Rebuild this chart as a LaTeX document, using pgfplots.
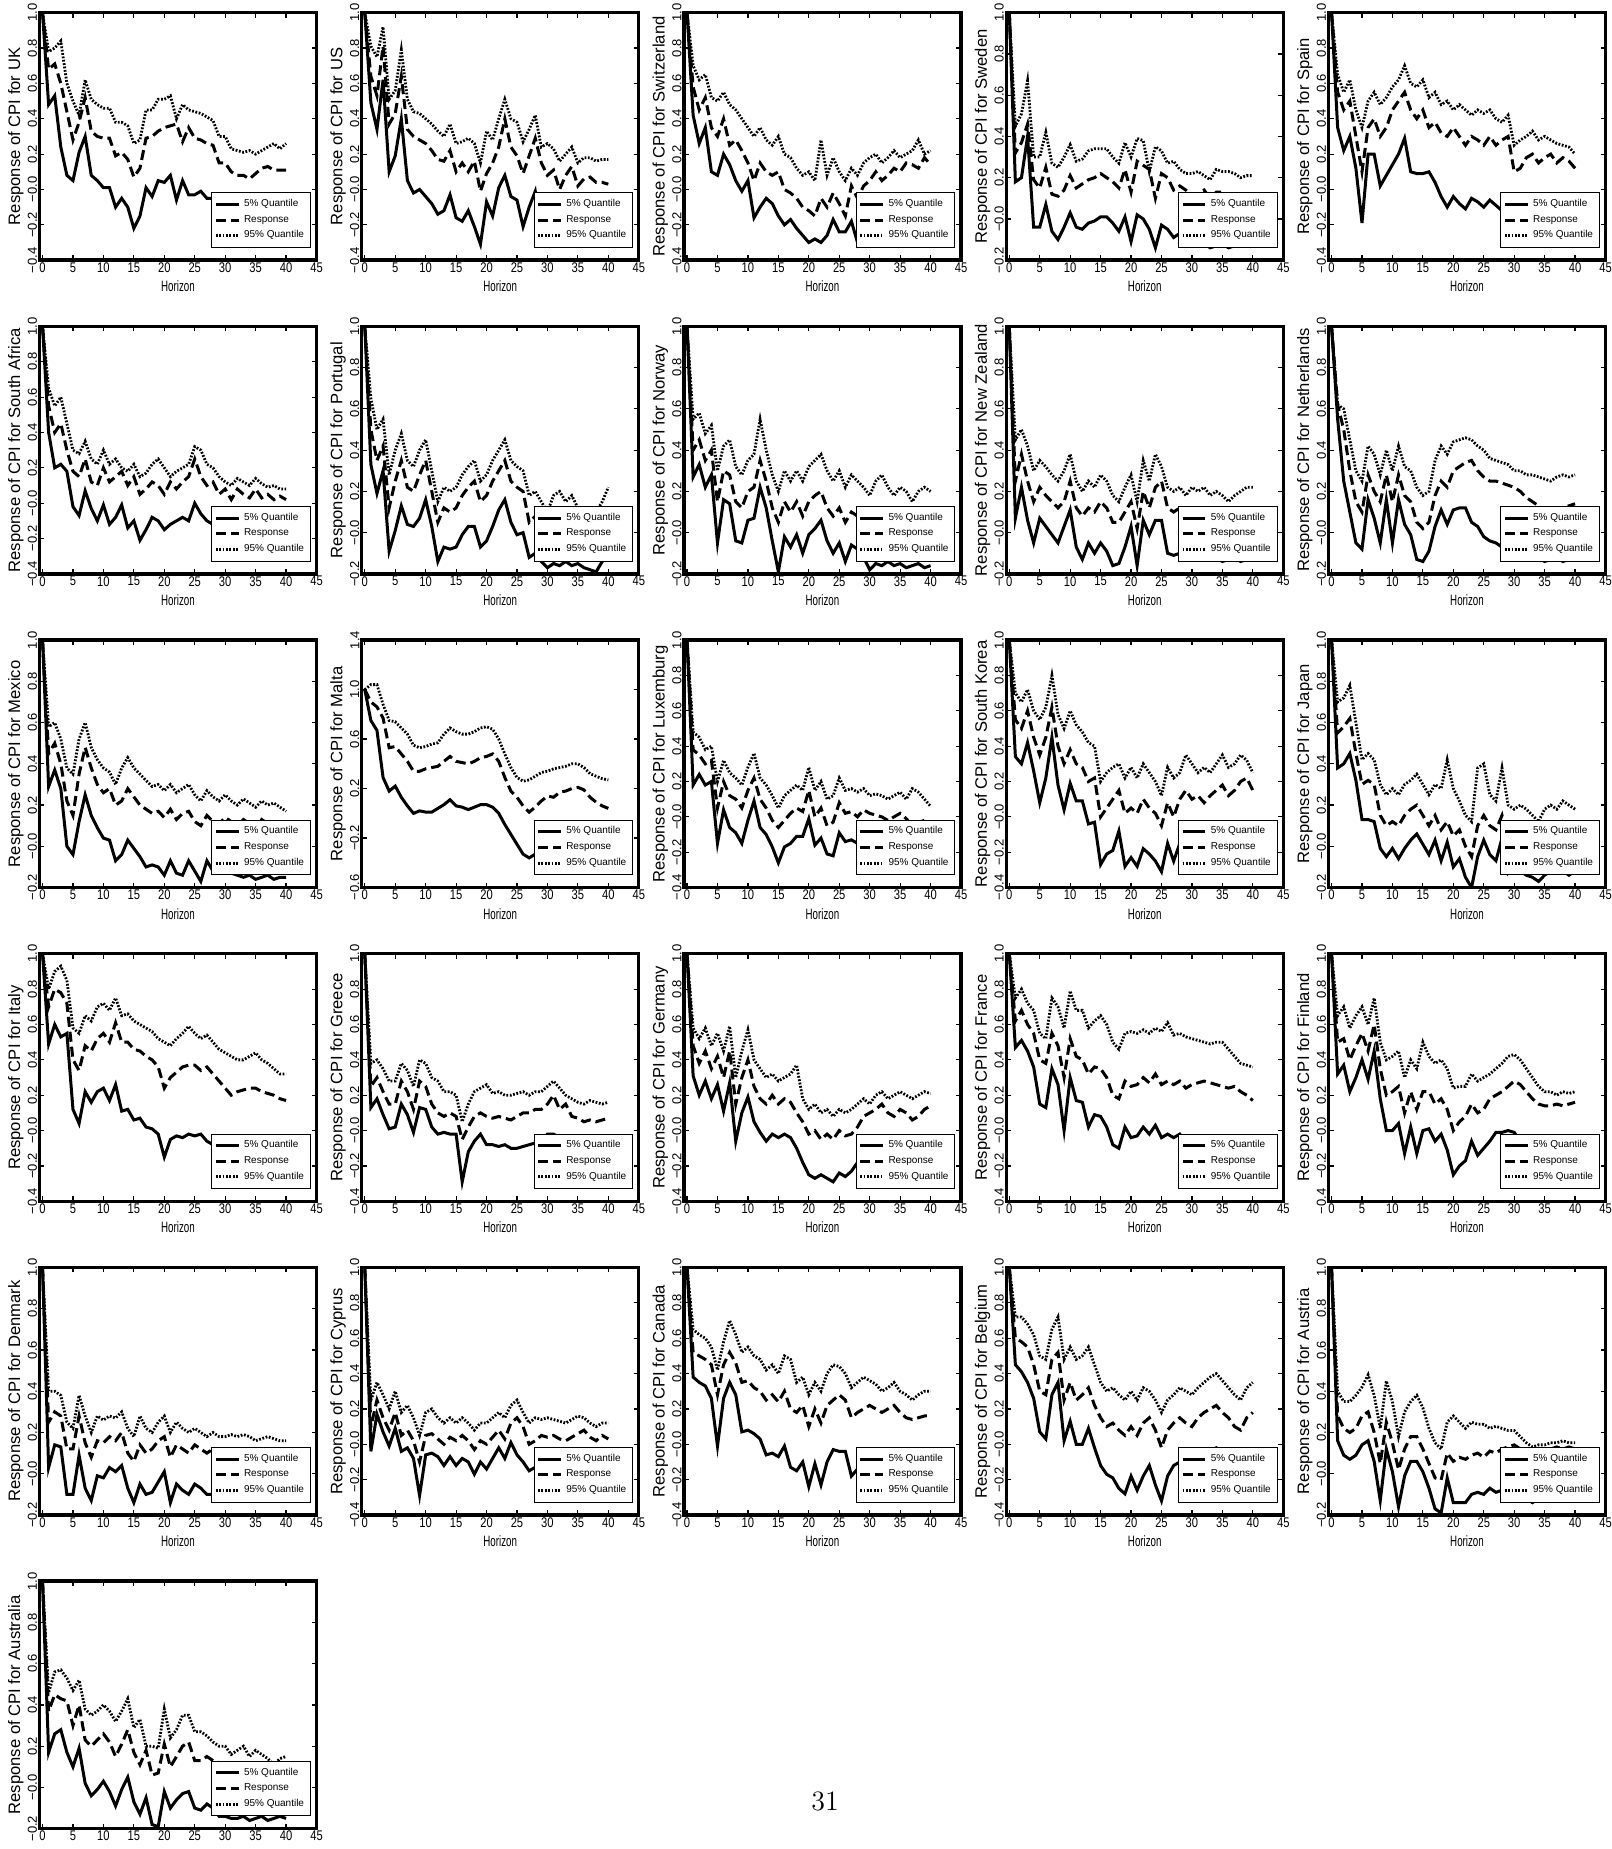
\documentclass[border=0pt]{standalone}
\usepackage{pgfplots}
\usepackage{pgfplotstable}
\usepackage{graphicx}
\usepackage{fontspec}
\pgfplotsset{compat=1.18}
\newfontfamily\lib{Liberation Sans}

\pgfplotsset{
  panel/.style={
    scale only axis, width=138.5pt, height=123.75pt, anchor=south west,
    xmin=-0.5, xmax=45, xtick={0,5,...,45},
    tick align=inside, major tick length=2.5pt,
    every tick/.style={black, line width=0.6pt},
    axis line style={line width=1.7pt},
    /pgf/number format/assume math mode=true,
    xticklabel={\scalebox{0.8}[1]{\pgfmathprintnumber{\tick}}},
    xticklabel style={font=\lib\fontsize{7}{7}\selectfont, inner sep=1pt},
    yticklabel style={font=\lib\fontsize{6.5}{6.5}\selectfont, rotate=90, anchor=south, inner sep=1pt},
    xlabel={\scalebox{0.65}[1]{Horizon}},
    xlabel style={font=\lib\fontsize{7.5}{8}\selectfont, inner sep=1pt, yshift=-2pt},
    ylabel style={font=\lib\fontsize{8.3}{9}\selectfont, inner sep=1pt},
    legend style={at={(rel axis cs:0.98,0.05)}, anchor=south east,
      font=\lib\fontsize{5}{5.5}\selectfont, draw=black, line width=0.5pt,
      fill=white, inner sep=1.2pt, row sep=-1.2pt, cells={anchor=west}},
    legend image code/.code={\draw[#1] (0cm,0cm) -- (0.4cm,0cm);},
    legend entries={5\% Quantile, Response, 95\% Quantile},
  },
  s5/.style={black, line width=1.5pt, solid},
  resp/.style={black, line width=1.5pt, dash pattern=on 5pt off 2.5pt},
  q95/.style={black, line width=1.4pt, dash pattern=on 0.9pt off 0.8pt},
  rA/.style={ymin=-0.4, ymax=1.0, ytick={-0.4,-0.2,0,0.2,0.4,0.6,0.8,1.0},
    yticklabels={−0.4,−0.2,−0.0,0.2,0.4,0.6,0.8,1.0}},
  rB/.style={ymin=-0.2, ymax=1.0, ytick={-0.2,0,0.2,0.4,0.6,0.8,1.0},
    yticklabels={−0.2,−0.0,0.2,0.4,0.6,0.8,1.0}},
  rM/.style={ymin=-0.6, ymax=1.4, ytick={-0.6,-0.2,0.2,0.6,1.0,1.4},
    yticklabels={−0.6,−0.2,0.2,0.6,1.0,1.4}},
}

\newcommand\panel[5]{%
\begin{axis}[panel,#4,at={(#1)},ylabel={Response of CPI for #3},#5]
\addplot[s5] table[x index=1,y index=2]{#2};
\addplot[resp] table[x index=1,y index=3]{#2};
\addplot[q95] table[x index=1,y index=4]{#2};
\end{axis}}

% rows of each table: horizon, 5% quantile, response, 95% quantile
\pgfplotstableread[header=false,row sep=\\]{
0 1 2 3 4 5 6 7 8 9 10 11 12 13 14 15 16 17 18 19 20 21 22 23 24 25 26 27 28 29 30 31 32 33 34 35 36 37 38 39 40\\
1.0 0.48 0.53 0.24 0.08 0.05 0.21 0.30 0.08 0.05 0.01 0.01 -0.10 -0.05 -0.10 -0.22 -0.15 0.01 -0.04 0.05 0.04 0.08 -0.06 0.05 -0.03 -0.03 -0.01 -0.05 -0.05 -0.19 -0.20 -0.22 -0.24 -0.25 -0.26 -0.27 -0.26 -0.24 -0.25 -0.26 -0.25\\
1.0 0.68 0.71 0.60 0.44 0.28 0.38 0.52 0.33 0.30 0.29 0.29 0.19 0.21 0.17 0.07 0.12 0.29 0.30 0.33 0.35 0.36 0.37 0.27 0.35 0.29 0.28 0.26 0.25 0.15 0.15 0.10 0.08 0.08 0.06 0.09 0.12 0.13 0.11 0.11 0.11\\
1.0 0.78 0.80 0.84 0.60 0.50 0.42 0.62 0.51 0.48 0.46 0.46 0.38 0.38 0.36 0.26 0.28 0.45 0.45 0.51 0.51 0.53 0.40 0.48 0.45 0.44 0.43 0.41 0.39 0.30 0.30 0.23 0.22 0.21 0.22 0.20 0.22 0.24 0.26 0.23 0.26\\
}\rawUK
\pgfplotstabletranspose{\tUK}{\rawUK}

\pgfplotstableread[header=false,row sep=\\]{
0 1 2 3 4 5 6 7 8 9 10 11 12 13 14 15 16 17 18 19 20 21 22 23 24 25 26 27 28 29 30 31 32 33 34 35 36 37 38 39 40\\
1.0 0.49 0.34 0.62 0.10 0.19 0.40 0.05 -0.02 0.00 -0.04 -0.08 -0.14 -0.12 -0.03 -0.16 -0.18 -0.12 -0.21 -0.31 -0.07 -0.15 0.01 0.08 -0.04 -0.06 -0.21 -0.10 -0.01 -0.25 -0.22 -0.24 -0.25 -0.26 -0.25 -0.27 -0.26 -0.27 -0.28 -0.27 -0.28\\
1.0 0.64 0.53 0.81 0.37 0.43 0.64 0.34 0.30 0.28 0.26 0.22 0.17 0.16 0.22 0.10 0.15 0.10 0.16 -0.01 0.09 0.15 0.24 0.40 0.24 0.19 0.09 0.19 0.29 0.15 0.08 0.11 0.00 0.08 0.13 0.02 0.06 0.07 0.04 0.04 0.03\\
1.0 0.81 0.75 0.92 0.51 0.56 0.79 0.51 0.44 0.43 0.40 0.37 0.33 0.30 0.37 0.26 0.27 0.29 0.26 0.15 0.33 0.28 0.40 0.51 0.40 0.38 0.27 0.34 0.42 0.24 0.26 0.23 0.16 0.20 0.24 0.15 0.18 0.18 0.16 0.17 0.17\\
}\rawUS
\pgfplotstabletranspose{\tUS}{\rawUS}

\pgfplotstableread[header=false,row sep=\\]{
0 1 2 3 4 5 6 7 8 9 10 11 12 13 14 15 16 17 18 19 20 21 22 23 24 25 26 27 28 29 30 31 32 33 34 35 36 37 38 39 40\\
1.0 0.42 0.26 0.35 0.10 0.08 0.20 0.14 0.05 -0.01 0.05 -0.16 -0.10 -0.05 -0.08 -0.15 -0.20 -0.17 -0.22 -0.26 -0.30 -0.28 -0.30 -0.26 -0.17 -0.24 -0.24 -0.18 -0.30 -0.15 -0.12 -0.10 -0.12 -0.10 -0.08 -0.07 -0.05 -0.04 -0.06 -0.04 -0.05\\
1.0 0.58 0.45 0.52 0.35 0.30 0.40 0.25 0.28 0.22 0.15 0.05 0.15 0.10 0.08 0.10 0.00 -0.02 -0.05 -0.10 -0.12 -0.15 -0.05 -0.10 -0.02 -0.08 -0.15 0.02 -0.05 0.02 0.05 0.10 0.05 0.08 0.12 0.10 0.15 0.14 0.12 0.18 0.14\\
1.0 0.70 0.62 0.65 0.52 0.50 0.55 0.48 0.45 0.40 0.35 0.30 0.35 0.28 0.25 0.30 0.20 0.18 0.12 0.08 0.10 0.05 0.28 0.08 0.18 0.10 0.05 0.12 0.08 0.15 0.18 0.20 0.15 0.18 0.22 0.18 0.20 0.22 0.28 0.20 0.22\\
}\rawCH
\pgfplotstabletranspose{\tCH}{\rawCH}

\pgfplotstableread[header=false,row sep=\\]{
0 1 2 3 4 5 6 7 8 9 10 11 12 13 14 15 16 17 18 19 20 21 22 23 24 25 26 27 28 29 30 31 32 33 34 35 36 37 38 39 40\\
1.0 0.18 0.20 0.40 -0.04 -0.04 0.07 -0.06 -0.10 -0.04 0.03 -0.04 -0.05 -0.02 -0.01 0.01 0.01 -0.02 -0.06 0.01 -0.11 0.02 0.00 -0.05 -0.14 -0.03 -0.05 -0.09 -0.07 -0.11 -0.12 -0.13 -0.12 -0.14 -0.13 -0.12 -0.14 -0.13 -0.12 -0.13 -0.12\\
1.0 0.32 0.37 0.46 0.19 0.15 0.25 0.12 0.11 0.14 0.21 0.15 0.17 0.19 0.20 0.22 0.20 0.18 0.15 0.24 0.13 0.28 0.26 0.24 0.10 0.22 0.20 0.14 0.16 0.14 0.11 0.12 0.14 0.10 0.13 0.13 0.12 0.12 0.11 0.10 0.10\\
1.0 0.45 0.51 0.67 0.30 0.30 0.42 0.27 0.25 0.30 0.36 0.28 0.29 0.33 0.34 0.34 0.34 0.30 0.27 0.37 0.30 0.39 0.38 0.23 0.35 0.33 0.27 0.28 0.24 0.22 0.22 0.23 0.21 0.19 0.24 0.23 0.23 0.22 0.20 0.21 0.21\\
}\rawSE
\pgfplotstabletranspose{\tSE}{\rawSE}

\pgfplotstableread[header=false,row sep=\\]{
0 1 2 3 4 5 6 7 8 9 10 11 12 13 14 15 16 17 18 19 20 21 22 23 24 25 26 27 28 29 30 31 32 33 34 35 36 37 38 39 40\\
1.0 0.35 0.22 0.30 0.12 -0.19 0.20 0.20 0.02 0.08 0.14 0.20 0.29 0.10 0.09 0.09 0.10 0.04 -0.04 -0.10 -0.04 -0.08 -0.11 -0.05 -0.07 -0.10 -0.06 -0.09 -0.12 -0.08 -0.25 -0.22 -0.24 -0.25 -0.23 -0.26 -0.25 -0.24 -0.26 -0.25 -0.24\\
1.0 0.55 0.45 0.50 0.30 0.10 0.35 0.40 0.30 0.35 0.45 0.50 0.55 0.45 0.40 0.45 0.35 0.38 0.32 0.30 0.35 0.30 0.25 0.30 0.28 0.25 0.30 0.25 0.28 0.30 0.10 0.12 0.18 0.20 0.15 0.18 0.20 0.15 0.18 0.16 0.12\\
1.0 0.65 0.55 0.62 0.45 0.35 0.50 0.55 0.48 0.52 0.58 0.62 0.70 0.60 0.58 0.62 0.52 0.55 0.48 0.50 0.45 0.48 0.45 0.42 0.45 0.43 0.45 0.40 0.38 0.42 0.25 0.28 0.30 0.33 0.28 0.30 0.28 0.26 0.25 0.24 0.20\\
}\rawES
\pgfplotstabletranspose{\tES}{\rawES}

\pgfplotstableread[header=false,row sep=\\]{
0 1 2 3 4 5 6 7 8 9 10 11 12 13 14 15 16 17 18 19 20 21 22 23 24 25 26 27 28 29 30 31 32 33 34 35 36 37 38 39 40\\
1.0 0.40 0.20 0.22 0.18 -0.02 -0.07 0.07 -0.03 -0.10 -0.01 -0.12 -0.08 -0.01 -0.14 -0.10 -0.21 -0.15 -0.08 -0.10 -0.15 -0.12 -0.10 -0.08 -0.10 0.00 -0.06 -0.10 -0.12 -0.14 -0.16 -0.18 -0.17 -0.19 -0.18 -0.20 -0.19 -0.18 -0.20 -0.19 -0.18\\
1.0 0.55 0.40 0.45 0.30 0.18 0.15 0.25 0.12 0.10 0.20 0.12 0.15 0.18 0.10 0.15 0.05 0.08 0.12 0.10 0.05 0.12 0.08 0.12 0.15 0.25 0.15 0.10 0.12 0.05 0.08 0.02 0.08 0.05 0.03 0.08 0.03 0.05 0.02 0.04 0.02\\
1.0 0.65 0.55 0.60 0.45 0.30 0.28 0.35 0.25 0.22 0.30 0.22 0.25 0.20 0.18 0.22 0.15 0.17 0.22 0.25 0.20 0.15 0.18 0.20 0.22 0.32 0.30 0.22 0.20 0.15 0.12 0.10 0.14 0.12 0.10 0.14 0.11 0.09 0.10 0.08 0.08\\
}\rawZA
\pgfplotstabletranspose{\tZA}{\rawZA}

\pgfplotstableread[header=false,row sep=\\]{
0 1 2 3 4 5 6 7 8 9 10 11 12 13 14 15 16 17 18 19 20 21 22 23 24 25 26 27 28 29 30 31 32 33 34 35 36 37 38 39 40\\
1.0 0.33 0.19 0.30 -0.09 0.01 0.13 0.04 0.03 0.07 0.16 0.03 -0.14 -0.07 -0.08 -0.07 -0.01 0.03 0.03 -0.07 -0.04 0.03 0.11 0.16 0.05 -0.01 0.00 -0.12 -0.10 -0.14 -0.17 -0.15 -0.16 -0.14 -0.16 -0.15 -0.17 -0.18 -0.19 -0.14 -0.12\\
1.0 0.50 0.35 0.42 0.12 0.25 0.35 0.22 0.20 0.28 0.35 0.20 0.05 0.12 0.10 0.12 0.18 0.22 0.25 0.15 0.18 0.25 0.30 0.35 0.25 0.22 0.20 0.05 0.08 0.02 0.00 0.03 0.05 0.02 0.04 0.00 -0.02 0.00 0.02 0.01 0.00\\
1.0 0.65 0.50 0.55 0.28 0.40 0.48 0.35 0.32 0.40 0.45 0.30 0.15 0.22 0.20 0.22 0.28 0.32 0.35 0.25 0.28 0.35 0.40 0.45 0.35 0.32 0.30 0.18 0.20 0.15 0.10 0.18 0.20 0.15 0.18 0.12 0.10 0.12 0.10 0.15 0.22\\
}\rawPT
\pgfplotstabletranspose{\tPT}{\rawPT}

\pgfplotstableread[header=false,row sep=\\]{
0 1 2 3 4 5 6 7 8 9 10 11 12 13 14 15 16 17 18 19 20 21 22 23 24 25 26 27 28 29 30 31 32 33 34 35 36 37 38 39 40\\
1.0 0.27 0.33 0.22 0.28 -0.05 0.16 0.14 -0.04 -0.05 0.06 0.07 0.22 0.12 -0.04 -0.19 -0.02 -0.07 -0.01 -0.10 -0.01 0.02 0.06 -0.04 -0.10 -0.05 -0.14 -0.06 -0.08 -0.12 -0.18 -0.15 -0.16 -0.14 -0.16 -0.15 -0.17 -0.16 -0.15 -0.17 -0.16\\
1.0 0.40 0.45 0.35 0.40 0.15 0.30 0.28 0.15 0.12 0.20 0.22 0.35 0.25 0.12 0.05 0.15 0.10 0.15 0.08 0.15 0.18 0.20 0.12 0.08 0.12 0.05 0.10 0.08 0.05 0.02 0.08 0.10 0.05 0.02 0.08 0.05 0.00 0.06 0.08 0.05\\
1.0 0.55 0.58 0.48 0.52 0.30 0.42 0.45 0.32 0.28 0.35 0.38 0.55 0.40 0.28 0.20 0.30 0.25 0.30 0.25 0.32 0.35 0.38 0.30 0.25 0.30 0.22 0.28 0.25 0.22 0.18 0.25 0.28 0.22 0.18 0.22 0.20 0.15 0.20 0.22 0.20\\
}\rawNO
\pgfplotstabletranspose{\tNO}{\rawNO}

\pgfplotstableread[header=false,row sep=\\]{
0 1 2 3 4 5 6 7 8 9 10 11 12 13 14 15 16 17 18 19 20 21 22 23 24 25 26 27 28 29 30 31 32 33 34 35 36 37 38 39 40\\
1.0 0.07 0.22 0.06 -0.05 0.07 0.03 -0.01 -0.05 0.03 0.11 -0.07 -0.13 -0.05 -0.10 -0.05 -0.09 -0.16 -0.15 -0.07 0.03 -0.16 0.06 -0.01 0.06 0.06 -0.10 -0.11 -0.10 -0.09 -0.08 -0.12 -0.11 -0.13 -0.12 -0.14 -0.13 -0.12 -0.14 -0.13 -0.12\\
1.0 0.25 0.38 0.25 0.15 0.22 0.18 0.15 0.12 0.15 0.25 0.12 0.08 0.12 0.10 0.15 0.12 0.05 0.05 0.10 0.15 0.02 0.20 0.12 0.22 0.25 0.12 0.10 0.12 0.10 0.10 0.05 0.08 0.05 0.07 0.06 0.02 0.08 0.10 0.12 0.12\\
1.0 0.45 0.50 0.42 0.30 0.35 0.32 0.28 0.25 0.30 0.38 0.25 0.20 0.25 0.22 0.28 0.25 0.18 0.15 0.22 0.28 0.15 0.35 0.25 0.38 0.32 0.22 0.20 0.22 0.18 0.22 0.20 0.22 0.18 0.20 0.18 0.15 0.18 0.20 0.22 0.22\\
}\rawNZ
\pgfplotstabletranspose{\tNZ}{\rawNZ}

\pgfplotstableread[header=false,row sep=\\]{
0 1 2 3 4 5 6 7 8 9 10 11 12 13 14 15 16 17 18 19 20 21 22 23 24 25 26 27 28 29 30 31 32 33 34 35 36 37 38 39 40\\
1.0 0.55 0.25 0.10 -0.05 -0.08 0.16 0.07 -0.05 0.16 -0.05 0.16 0.04 -0.01 -0.13 -0.14 -0.09 0.03 0.11 0.04 0.11 0.12 0.12 0.05 0.03 -0.02 -0.04 -0.05 -0.07 -0.09 -0.10 -0.11 -0.12 -0.13 -0.12 -0.14 -0.13 -0.12 -0.14 -0.13 -0.12\\
1.0 0.62 0.50 0.30 0.15 0.10 0.28 0.20 0.15 0.28 0.15 0.28 0.18 0.15 0.05 0.02 0.05 0.18 0.25 0.22 0.30 0.32 0.34 0.35 0.30 0.27 0.25 0.25 0.24 0.23 0.22 0.20 0.17 0.15 0.13 0.11 0.10 0.10 0.12 0.13 0.14\\
1.0 0.62 0.60 0.45 0.30 0.25 0.42 0.38 0.28 0.40 0.30 0.42 0.32 0.30 0.22 0.18 0.20 0.35 0.42 0.38 0.44 0.45 0.46 0.45 0.42 0.40 0.36 0.35 0.34 0.33 0.30 0.30 0.28 0.28 0.27 0.26 0.25 0.27 0.28 0.27 0.28\\
}\rawNL
\pgfplotstabletranspose{\tNL}{\rawNL}

\pgfplotstableread[header=false,row sep=\\]{
0 1 2 3 4 5 6 7 8 9 10 11 12 13 14 15 16 17 18 19 20 21 22 23 24 25 26 27 28 29 30 31 32 33 34 35 36 37 38 39 40\\
1.0 0.29 0.37 0.28 0.00 -0.04 0.12 0.25 0.15 0.09 0.04 0.03 -0.07 -0.04 0.03 -0.01 -0.05 -0.10 -0.09 -0.10 -0.14 -0.07 -0.13 -0.14 -0.07 -0.12 -0.17 -0.07 -0.12 -0.12 -0.12 -0.13 -0.14 -0.15 -0.14 -0.16 -0.15 -0.14 -0.16 -0.15 -0.15\\
1.0 0.45 0.50 0.40 0.22 0.15 0.35 0.48 0.38 0.30 0.26 0.28 0.20 0.22 0.28 0.24 0.20 0.18 0.16 0.17 0.14 0.18 0.13 0.16 0.17 0.12 0.10 0.15 0.12 0.11 0.14 0.12 0.10 0.13 0.11 0.09 0.13 0.11 0.12 0.10 0.11\\
1.0 0.58 0.60 0.52 0.38 0.35 0.52 0.60 0.48 0.42 0.38 0.36 0.30 0.38 0.43 0.38 0.35 0.32 0.29 0.30 0.27 0.30 0.26 0.28 0.30 0.25 0.22 0.27 0.24 0.22 0.25 0.22 0.20 0.23 0.21 0.19 0.22 0.20 0.21 0.19 0.17\\
}\rawMX
\pgfplotstabletranspose{\tMX}{\rawMX}

\pgfplotstableread[header=false,row sep=\\]{
0 1 2 3 4 5 6 7 8 9 10 11 12 13 14 15 16 17 18 19 20 21 22 23 24 25 26 27 28 29 30 31 32 33 34 35 36 37 38 39 40\\
1.0 0.75 0.67 0.29 0.18 0.22 0.13 0.06 0.00 0.02 0.01 0.01 0.04 0.07 0.11 0.06 0.05 0.03 0.05 0.07 0.07 0.05 0.00 -0.09 -0.17 -0.25 -0.33 -0.36 -0.33 -0.30 -0.30 -0.32 -0.30 -0.28 -0.27 -0.26 -0.25 -0.26 -0.28 -0.32 -0.38\\
1.0 0.90 0.86 0.77 0.53 0.54 0.48 0.42 0.34 0.34 0.36 0.37 0.38 0.42 0.46 0.42 0.41 0.40 0.42 0.45 0.46 0.48 0.42 0.29 0.18 0.13 0.06 0.01 0.05 0.10 0.14 0.13 0.17 0.18 0.20 0.21 0.19 0.13 0.09 0.06 0.04\\
1.0 1.04 1.04 0.88 0.75 0.74 0.69 0.64 0.55 0.53 0.54 0.56 0.57 0.64 0.69 0.66 0.64 0.64 0.66 0.69 0.70 0.68 0.60 0.48 0.37 0.29 0.26 0.27 0.30 0.33 0.34 0.36 0.37 0.38 0.40 0.40 0.37 0.32 0.30 0.28 0.27\\
}\rawMT
\pgfplotstabletranspose{\tMT}{\rawMT}

\pgfplotstableread[header=false,row sep=\\]{
0 1 2 3 4 5 6 7 8 9 10 11 12 13 14 15 16 17 18 19 20 21 22 23 24 25 26 27 28 29 30 31 32 33 34 35 36 37 38 39 40\\
1.0 0.18 0.24 0.18 0.20 -0.15 0.04 -0.06 -0.09 -0.15 -0.02 0.09 -0.06 -0.10 -0.17 -0.26 -0.17 -0.15 -0.11 -0.11 -0.01 -0.16 -0.12 -0.21 -0.22 -0.09 -0.14 -0.13 -0.15 -0.12 -0.12 -0.14 -0.15 -0.16 -0.15 -0.17 -0.16 -0.15 -0.17 -0.16 -0.15\\
1.0 0.38 0.35 0.30 0.32 0.05 0.20 0.12 0.10 0.05 0.15 0.22 0.10 0.05 -0.02 -0.06 -0.02 0.02 0.05 0.03 0.15 0.00 0.05 -0.05 -0.03 0.08 0.02 0.03 0.00 0.04 0.02 0.01 0.00 -0.02 0.00 0.02 -0.01 -0.05 -0.03 -0.02 -0.05\\
1.0 0.48 0.45 0.38 0.40 0.20 0.32 0.25 0.22 0.18 0.28 0.36 0.22 0.18 0.12 0.05 0.12 0.15 0.18 0.15 0.28 0.15 0.20 0.10 0.12 0.22 0.15 0.16 0.14 0.16 0.12 0.13 0.12 0.10 0.12 0.14 0.10 0.16 0.14 0.10 0.06\\
}\rawLU
\pgfplotstabletranspose{\tLU}{\rawLU}

\pgfplotstableread[header=false,row sep=\\]{
0 1 2 3 4 5 6 7 8 9 10 11 12 13 14 15 16 17 18 19 20 21 22 23 24 25 26 27 28 29 30 31 32 33 34 35 36 37 38 39 40\\
1.0 0.34 0.30 0.42 0.26 0.08 0.22 0.45 0.18 0.04 0.19 0.09 0.09 -0.04 -0.03 -0.27 -0.21 -0.19 -0.08 -0.28 -0.23 -0.28 -0.18 -0.21 -0.25 -0.31 -0.15 -0.25 -0.15 -0.05 -0.08 -0.10 -0.12 -0.10 -0.08 -0.10 -0.09 -0.08 -0.06 -0.04 -0.08\\
1.0 0.55 0.50 0.60 0.45 0.35 0.45 0.62 0.40 0.30 0.38 0.30 0.28 0.20 0.22 0.00 0.05 0.10 0.15 0.02 0.05 0.02 0.10 0.05 0.02 -0.05 0.08 0.00 0.10 0.15 0.10 0.12 0.08 0.12 0.15 0.18 0.12 0.15 0.20 0.22 0.15\\
1.0 0.70 0.65 0.72 0.60 0.55 0.62 0.80 0.58 0.50 0.60 0.52 0.48 0.42 0.40 0.20 0.25 0.28 0.30 0.22 0.28 0.22 0.30 0.25 0.20 0.12 0.28 0.22 0.25 0.35 0.30 0.25 0.28 0.25 0.30 0.35 0.28 0.30 0.35 0.32 0.25\\
}\rawKR
\pgfplotstabletranspose{\tKR}{\rawKR}

\pgfplotstableread[header=false,row sep=\\]{
0 1 2 3 4 5 6 7 8 9 10 11 12 13 14 15 16 17 18 19 20 21 22 23 24 25 26 27 28 29 30 31 32 33 34 35 36 37 38 39 40\\
1.0 0.38 0.40 0.45 0.32 0.13 0.13 0.12 -0.01 -0.05 -0.01 -0.06 -0.01 0.03 0.06 0.01 -0.04 0.03 -0.07 0.02 -0.10 -0.06 -0.15 -0.20 -0.05 0.03 -0.04 -0.07 0.04 -0.13 -0.10 -0.12 -0.14 -0.15 -0.17 -0.14 -0.12 -0.13 -0.12 -0.14 -0.12\\
1.0 0.55 0.58 0.62 0.45 0.30 0.32 0.30 0.15 0.10 0.12 0.10 0.15 0.18 0.20 0.15 0.10 0.15 0.08 0.12 0.05 0.08 0.00 -0.05 0.10 0.15 0.10 0.08 0.15 0.02 0.05 0.08 0.05 0.02 -0.02 0.05 0.10 0.08 0.12 0.10 0.08\\
1.0 0.70 0.72 0.78 0.60 0.42 0.45 0.42 0.30 0.25 0.28 0.25 0.30 0.32 0.35 0.30 0.25 0.30 0.28 0.42 0.28 0.22 0.15 0.12 0.38 0.40 0.25 0.22 0.38 0.20 0.18 0.20 0.18 0.15 0.12 0.18 0.20 0.18 0.22 0.20 0.18\\
}\rawJP
\pgfplotstabletranspose{\tJP}{\rawJP}

\pgfplotstableread[header=false,row sep=\\]{
0 1 2 3 4 5 6 7 8 9 10 11 12 13 14 15 16 17 18 19 20 21 22 23 24 25 26 27 28 29 30 31 32 33 34 35 36 37 38 39 40\\
1.0 0.49 0.60 0.53 0.55 0.12 0.04 0.22 0.16 0.22 0.24 0.17 0.26 0.11 0.12 0.06 0.07 0.02 0.01 -0.02 -0.15 -0.05 -0.03 -0.04 -0.02 -0.03 -0.02 -0.06 -0.08 -0.11 -0.13 -0.15 -0.16 -0.17 -0.16 -0.18 -0.17 -0.19 -0.18 -0.20 -0.19\\
1.0 0.70 0.80 0.78 0.72 0.40 0.34 0.48 0.45 0.52 0.55 0.50 0.61 0.50 0.50 0.46 0.45 0.42 0.40 0.36 0.24 0.30 0.33 0.36 0.37 0.37 0.34 0.36 0.32 0.28 0.24 0.20 0.22 0.23 0.24 0.24 0.22 0.21 0.20 0.18 0.17\\
1.0 0.80 0.90 0.93 0.85 0.58 0.55 0.65 0.62 0.70 0.72 0.68 0.75 0.65 0.66 0.62 0.60 0.58 0.56 0.52 0.50 0.48 0.52 0.55 0.59 0.55 0.52 0.54 0.50 0.46 0.44 0.42 0.40 0.40 0.42 0.44 0.40 0.38 0.35 0.32 0.32\\
}\rawIT
\pgfplotstabletranspose{\tIT}{\rawIT}

\pgfplotstableread[header=false,row sep=\\]{
0 1 2 3 4 5 6 7 8 9 10 11 12 13 14 15 16 17 18 19 20 21 22 23 24 25 26 27 28 29 30 31 32 33 34 35 36 37 38 39 40\\
1.0 0.13 0.18 0.09 0.01 0.02 0.15 0.09 -0.01 0.13 0.12 0.02 -0.02 -0.01 -0.02 -0.02 -0.29 -0.12 -0.06 -0.02 -0.08 -0.08 -0.09 -0.08 -0.10 -0.10 -0.09 -0.08 -0.07 -0.06 -0.02 -0.02 -0.04 -0.06 -0.08 -0.09 -0.10 -0.10 -0.11 -0.12 -0.12\\
1.0 0.25 0.30 0.22 0.15 0.15 0.28 0.22 0.12 0.28 0.25 0.15 0.10 0.08 0.10 0.08 -0.05 0.02 0.08 0.10 0.08 0.07 0.08 0.07 0.06 0.08 0.10 0.10 0.12 0.12 0.15 0.20 0.12 0.15 0.08 0.07 0.05 0.06 0.05 0.06 0.07\\
1.0 0.38 0.40 0.35 0.28 0.28 0.38 0.34 0.25 0.40 0.38 0.30 0.28 0.22 0.22 0.20 0.05 0.15 0.22 0.24 0.26 0.21 0.22 0.20 0.20 0.21 0.22 0.20 0.22 0.22 0.25 0.28 0.24 0.20 0.18 0.16 0.15 0.17 0.16 0.15 0.16\\
}\rawGR
\pgfplotstabletranspose{\tGR}{\rawGR}

\pgfplotstableread[header=false,row sep=\\]{
0 1 2 3 4 5 6 7 8 9 10 11 12 13 14 15 16 17 18 19 20 21 22 23 24 25 26 27 28 29 30 31 32 33 34 35 36 37 38 39 40\\
1.0 0.31 0.20 0.28 0.18 0.26 0.11 0.27 -0.06 0.10 0.19 0.05 -0.01 -0.06 -0.02 -0.04 -0.02 -0.04 -0.10 -0.18 -0.25 -0.27 -0.25 -0.27 -0.29 -0.24 -0.26 -0.23 -0.18 -0.19 -0.17 -0.16 -0.18 -0.17 -0.19 -0.18 -0.20 -0.19 -0.18 -0.20 -0.19\\
1.0 0.48 0.38 0.45 0.35 0.42 0.30 0.45 0.15 0.30 0.40 0.25 0.18 0.15 0.20 0.15 0.18 0.16 0.10 0.05 -0.02 0.00 -0.05 -0.02 -0.05 0.00 -0.03 -0.02 0.02 0.08 0.10 0.12 0.15 0.10 0.08 0.12 0.10 0.06 0.08 0.12 0.14\\
1.0 0.58 0.52 0.58 0.48 0.55 0.45 0.59 0.30 0.45 0.57 0.40 0.35 0.30 0.32 0.28 0.30 0.32 0.37 0.18 0.12 0.15 0.10 0.12 0.08 0.12 0.10 0.12 0.15 0.18 0.15 0.20 0.22 0.18 0.20 0.22 0.20 0.18 0.20 0.22 0.21\\
}\rawDE
\pgfplotstabletranspose{\tDE}{\rawDE}

\pgfplotstableread[header=false,row sep=\\]{
0 1 2 3 4 5 6 7 8 9 10 11 12 13 14 15 16 17 18 19 20 21 22 23 24 25 26 27 28 29 30 31 32 33 34 35 36 37 38 39 40\\
1.0 0.47 0.51 0.45 0.36 0.15 0.13 0.35 0.26 0.00 0.30 0.17 0.16 0.02 0.09 0.08 0.02 -0.08 -0.10 0.02 -0.04 -0.03 0.02 -0.02 0.03 -0.04 -0.02 -0.04 -0.02 -0.06 -0.07 -0.08 -0.09 -0.10 -0.09 -0.11 -0.10 -0.12 -0.11 -0.13 -0.12\\
1.0 0.62 0.68 0.60 0.55 0.40 0.38 0.55 0.48 0.30 0.52 0.42 0.40 0.32 0.36 0.35 0.30 0.20 0.18 0.28 0.25 0.26 0.30 0.27 0.32 0.26 0.28 0.26 0.28 0.24 0.26 0.27 0.28 0.27 0.26 0.25 0.24 0.25 0.22 0.20 0.17\\
1.0 0.75 0.80 0.72 0.68 0.55 0.52 0.75 0.70 0.58 0.79 0.68 0.68 0.58 0.62 0.65 0.60 0.50 0.46 0.55 0.56 0.55 0.57 0.55 0.58 0.56 0.61 0.54 0.55 0.53 0.52 0.51 0.50 0.49 0.50 0.50 0.46 0.42 0.38 0.37 0.36\\
}\rawFR
\pgfplotstabletranspose{\tFR}{\rawFR}

\pgfplotstableread[header=false,row sep=\\]{
0 1 2 3 4 5 6 7 8 9 10 11 12 13 14 15 16 17 18 19 20 21 22 23 24 25 26 27 28 29 30 31 32 33 34 35 36 37 38 39 40\\
1.0 0.32 0.37 0.22 0.30 0.40 0.29 0.45 0.18 0.00 0.00 0.04 -0.13 0.02 -0.13 0.00 0.01 -0.06 -0.02 -0.11 -0.25 -0.20 -0.17 -0.06 -0.14 -0.10 -0.06 -0.01 -0.01 0.00 -0.01 -0.06 -0.08 -0.10 -0.09 -0.11 -0.10 -0.12 -0.11 -0.13 -0.12\\
1.0 0.50 0.52 0.40 0.48 0.55 0.45 0.60 0.35 0.20 0.22 0.25 0.10 0.22 0.12 0.22 0.22 0.15 0.18 0.12 0.00 0.05 0.08 0.15 0.10 0.12 0.18 0.20 0.22 0.25 0.28 0.26 0.22 0.18 0.15 0.14 0.14 0.15 0.14 0.15 0.16\\
1.0 0.65 0.70 0.58 0.65 0.70 0.60 0.75 0.50 0.40 0.42 0.45 0.30 0.40 0.35 0.50 0.42 0.38 0.40 0.35 0.24 0.25 0.25 0.32 0.28 0.30 0.32 0.35 0.38 0.42 0.43 0.40 0.35 0.30 0.25 0.22 0.22 0.20 0.22 0.21 0.22\\
}\rawFI
\pgfplotstabletranspose{\tFI}{\rawFI}

\pgfplotstableread[header=false,row sep=\\]{
0 1 2 3 4 5 6 7 8 9 10 11 12 13 14 15 16 17 18 19 20 21 22 23 24 25 26 27 28 29 30 31 32 33 34 35 36 37 38 39 40\\
1.0 0.03 0.14 0.13 -0.10 -0.10 0.09 -0.07 -0.13 -0.01 -0.02 0.03 0.01 0.04 -0.07 -0.14 -0.05 -0.10 -0.09 -0.04 0.01 -0.14 -0.05 -0.08 -0.10 -0.05 -0.07 -0.10 -0.10 -0.07 -0.08 -0.10 -0.09 -0.11 -0.10 -0.12 -0.11 -0.10 -0.12 -0.11 -0.10\\
1.0 0.25 0.30 0.28 0.12 0.12 0.28 0.15 0.08 0.16 0.15 0.18 0.16 0.20 0.10 0.06 0.14 0.10 0.12 0.16 0.18 0.08 0.14 0.12 0.10 0.14 0.12 0.10 0.12 0.10 0.10 0.11 0.10 0.11 0.10 0.09 0.10 0.11 0.10 0.09 0.09\\
1.0 0.40 0.40 0.38 0.25 0.22 0.38 0.28 0.20 0.28 0.26 0.28 0.27 0.30 0.22 0.18 0.28 0.22 0.20 0.25 0.28 0.20 0.25 0.22 0.20 0.22 0.20 0.18 0.20 0.18 0.18 0.19 0.18 0.19 0.18 0.16 0.17 0.18 0.17 0.16 0.16\\
}\rawDK
\pgfplotstabletranspose{\tDK}{\rawDK}

\pgfplotstableread[header=false,row sep=\\]{
0 1 2 3 4 5 6 7 8 9 10 11 12 13 14 15 16 17 18 19 20 21 22 23 24 25 26 27 28 29 30 31 32 33 34 35 36 37 38 39 40\\
1.0 -0.04 0.17 0.07 -0.01 0.09 -0.04 -0.02 -0.08 -0.29 -0.06 -0.05 -0.07 -0.12 -0.07 -0.12 -0.08 -0.10 -0.17 -0.10 -0.14 -0.08 -0.02 -0.08 0.01 -0.06 -0.10 -0.15 -0.13 -0.09 -0.08 -0.08 -0.07 -0.08 -0.06 -0.05 -0.04 -0.06 -0.08 -0.09 -0.08\\
1.0 0.10 0.25 0.15 0.08 0.18 0.05 0.08 0.02 -0.10 0.05 0.06 0.03 0.00 0.04 0.02 0.05 0.02 -0.03 0.02 0.00 0.04 0.08 0.03 0.12 0.15 0.10 0.00 0.02 0.05 0.04 0.05 0.03 0.02 0.04 0.06 0.08 0.04 0.02 0.05 0.03\\
1.0 0.25 0.35 0.28 0.20 0.30 0.18 0.22 0.15 0.05 0.18 0.20 0.15 0.12 0.15 0.12 0.15 0.12 0.08 0.12 0.12 0.15 0.18 0.15 0.22 0.25 0.18 0.12 0.15 0.14 0.15 0.14 0.13 0.12 0.14 0.16 0.15 0.12 0.10 0.12 0.12\\
}\rawCY
\pgfplotstabletranspose{\tCY}{\rawCY}

\pgfplotstableread[header=false,row sep=\\]{
0 1 2 3 4 5 6 7 8 9 10 11 12 13 14 15 16 17 18 19 20 21 22 23 24 25 26 27 28 29 30 31 32 33 34 35 36 37 38 39 40\\
1.0 0.38 0.35 0.33 0.26 -0.01 0.26 0.35 0.28 0.07 0.08 0.06 0.03 -0.06 -0.05 -0.07 -0.01 -0.13 -0.15 -0.10 -0.24 -0.11 -0.23 -0.10 -0.03 -0.04 -0.04 -0.18 -0.14 -0.12 -0.12 -0.13 -0.14 -0.15 -0.14 -0.16 -0.15 -0.14 -0.16 -0.15 -0.14\\
1.0 0.52 0.50 0.48 0.45 0.28 0.45 0.52 0.46 0.35 0.36 0.32 0.30 0.25 0.28 0.24 0.30 0.20 0.18 0.22 0.10 0.20 0.12 0.22 0.25 0.28 0.25 0.15 0.18 0.20 0.22 0.20 0.18 0.20 0.22 0.18 0.15 0.14 0.15 0.16 0.16\\
1.0 0.65 0.62 0.60 0.55 0.42 0.58 0.70 0.62 0.52 0.55 0.50 0.48 0.42 0.45 0.40 0.50 0.48 0.35 0.38 0.28 0.35 0.30 0.40 0.45 0.44 0.40 0.32 0.35 0.38 0.36 0.34 0.30 0.32 0.35 0.30 0.28 0.25 0.28 0.30 0.30\\
}\rawCA
\pgfplotstabletranspose{\tCA}{\rawCA}

\pgfplotstableread[header=false,row sep=\\]{
0 1 2 3 4 5 6 7 8 9 10 11 12 13 14 15 16 17 18 19 20 21 22 23 24 25 26 27 28 29 30 31 32 33 34 35 36 37 38 39 40\\
1.0 0.45 0.41 0.35 0.26 0.07 0.03 0.28 0.35 0.02 0.13 0.00 0.00 0.09 -0.02 -0.12 -0.17 -0.19 -0.25 -0.28 -0.18 -0.26 -0.18 -0.12 -0.23 -0.32 -0.18 -0.12 -0.10 -0.12 -0.14 -0.10 -0.08 -0.05 -0.02 -0.04 -0.06 -0.08 -0.10 -0.09 -0.10\\
1.0 0.60 0.58 0.55 0.45 0.30 0.28 0.48 0.52 0.25 0.35 0.25 0.28 0.32 0.22 0.15 0.10 0.12 0.08 0.05 0.10 0.05 0.12 0.15 0.08 -0.02 0.08 0.12 0.15 0.12 0.10 0.15 0.18 0.20 0.22 0.18 0.15 0.10 0.08 0.15 0.18\\
1.0 0.72 0.72 0.68 0.62 0.50 0.48 0.65 0.72 0.48 0.55 0.48 0.50 0.55 0.45 0.35 0.30 0.32 0.28 0.25 0.30 0.25 0.32 0.30 0.25 0.18 0.25 0.28 0.32 0.30 0.28 0.32 0.35 0.38 0.40 0.36 0.32 0.28 0.25 0.32 0.35\\
}\rawBE
\pgfplotstabletranspose{\tBE}{\rawBE}

\pgfplotstableread[header=false,row sep=\\]{
0 1 2 3 4 5 6 7 8 9 10 11 12 13 14 15 16 17 18 19 20 21 22 23 24 25 26 27 28 29 30 31 32 33 34 35 36 37 38 39 40\\
1.0 0.16 0.09 0.07 0.09 0.14 0.16 0.06 -0.13 0.12 0.01 -0.16 -0.01 0.06 0.06 0.01 -0.07 -0.17 -0.19 -0.02 -0.14 -0.14 -0.14 -0.10 -0.09 -0.10 -0.07 -0.09 -0.08 -0.05 -0.05 -0.10 -0.12 -0.14 -0.12 -0.13 -0.12 -0.11 -0.12 -0.13 -0.12\\
1.0 0.28 0.22 0.20 0.22 0.28 0.30 0.20 0.05 0.25 0.15 0.02 0.12 0.18 0.18 0.12 0.05 -0.02 -0.03 0.10 0.06 0.08 0.07 0.09 0.10 0.08 0.11 0.10 0.12 0.13 0.14 0.12 0.10 0.08 0.10 0.12 0.12 0.13 0.12 0.13 0.12\\
1.0 0.40 0.35 0.35 0.38 0.42 0.48 0.38 0.22 0.45 0.35 0.18 0.30 0.35 0.38 0.32 0.22 0.15 0.12 0.25 0.28 0.25 0.22 0.25 0.24 0.24 0.22 0.23 0.22 0.21 0.21 0.18 0.15 0.13 0.14 0.14 0.15 0.15 0.16 0.15 0.15\\
}\rawAT
\pgfplotstabletranspose{\tAT}{\rawAT}

\pgfplotstableread[header=false,row sep=\\]{
0 1 2 3 4 5 6 7 8 9 10 11 12 13 14 15 16 17 18 19 20 21 22 23 24 25 26 27 28 29 30 31 32 33 34 35 36 37 38 39 40\\
1.0 0.17 0.26 0.28 0.17 0.10 0.19 0.02 -0.04 -0.01 0.03 -0.02 -0.09 -0.01 0.05 -0.07 -0.13 -0.05 -0.18 -0.19 -0.02 -0.10 -0.06 -0.03 -0.02 -0.10 -0.11 -0.08 -0.10 -0.14 -0.14 -0.15 -0.15 -0.14 -0.16 -0.15 -0.14 -0.16 -0.15 -0.14 -0.15\\
1.0 0.37 0.45 0.43 0.42 0.30 0.40 0.23 0.20 0.23 0.26 0.22 0.15 0.21 0.28 0.17 0.11 0.18 0.06 0.07 0.21 0.10 0.15 0.20 0.22 0.13 0.13 0.15 0.13 0.12 0.12 0.11 0.12 0.11 0.10 0.11 0.10 0.09 0.10 0.10 0.10\\
1.0 0.46 0.56 0.57 0.53 0.47 0.52 0.38 0.35 0.37 0.40 0.37 0.32 0.37 0.43 0.29 0.33 0.20 0.20 0.19 0.38 0.24 0.28 0.35 0.35 0.27 0.27 0.25 0.22 0.20 0.20 0.16 0.18 0.20 0.15 0.18 0.16 0.14 0.11 0.14 0.15\\
}\rawAU
\pgfplotstabletranspose{\tAU}{\rawAU}

\begin{document}
\begin{tikzpicture}
\useasboundingbox (0,0) rectangle (806pt,924.5pt);
% row 1
\panel{19.75pt,794.4pt}{\tUK}{UK}{rA}{}
\panel{180.875pt,794.4pt}{\tUS}{US}{rA}{}
\panel{342pt,794.4pt}{\tCH}{Switzerland}{rA}{}
\panel{503.125pt,794.4pt}{\tSE}{Sweden}{rB}{}
\panel{664.25pt,794.4pt}{\tES}{Spain}{rA}{}
% row 2
\panel{19.75pt,637.55pt}{\tZA}{South Africa}{rA}{}
\panel{180.875pt,637.55pt}{\tPT}{Portugal}{rB}{}
\panel{342pt,637.55pt}{\tNO}{Norway}{rB}{}
\panel{503.125pt,637.55pt}{\tNZ}{New Zealand}{rB}{}
\panel{664.25pt,637.55pt}{\tNL}{Netherlands}{rB}{}
% row 3
\panel{19.75pt,480.7pt}{\tMX}{Mexico}{rB}{}
\panel{180.875pt,480.7pt}{\tMT}{Malta}{rM}{}
\panel{342pt,480.7pt}{\tLU}{Luxemburg}{rA}{}
\panel{503.125pt,480.7pt}{\tKR}{South Korea}{rA}{}
\panel{664.25pt,480.7pt}{\tJP}{Japan}{rB}{}
% row 4
\panel{19.75pt,323.85pt}{\tIT}{Italy}{rA}{}
\panel{180.875pt,323.85pt}{\tGR}{Greece}{rA}{}
\panel{342pt,323.85pt}{\tDE}{Germany}{rA}{}
\panel{503.125pt,323.85pt}{\tFR}{France}{rA}{}
\panel{664.25pt,323.85pt}{\tFI}{Finland}{rA}{}
% row 5
\panel{19.75pt,167pt}{\tDK}{Denmark}{rB}{}
\panel{180.875pt,167pt}{\tCY}{Cyprus}{rA}{}
\panel{342pt,167pt}{\tCA}{Canada}{rA}{}
\panel{503.125pt,167pt}{\tBE}{Belgium}{rA}{}
\panel{664.25pt,167pt}{\tAT}{Austria}{rB}{}
% row 6
\panel{19.75pt,10.15pt}{\tAU}{Australia}{rB}{xlabel={}}
\node[font=\fontsize{14}{16}\selectfont] at (412.5pt,24pt) {31};
\end{tikzpicture}
\end{document}
